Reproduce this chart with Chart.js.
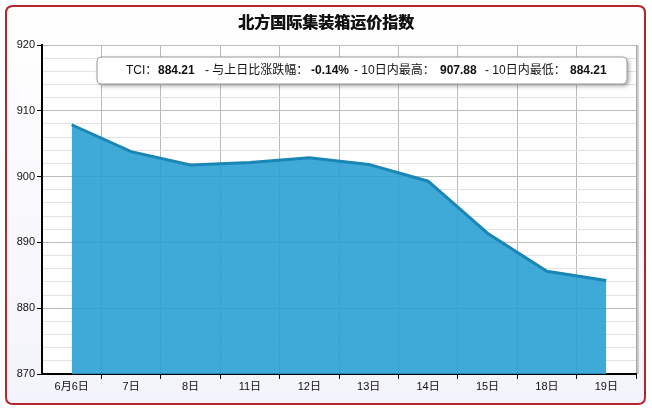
<!DOCTYPE html>
<html>
<head>
<meta charset="utf-8">
<script src="https://cdn.jsdelivr.net/npm/chart.js@4/dist/chart.umd.min.js"></script>
<style>
  html, body { margin: 0; padding: 0; background: #fff; }
  #wrap { position: relative; width: 652px; height: 411px; }
</style>
</head>
<body>
<div id="wrap"><canvas id="tciChart" width="652" height="411"></canvas></div>
<script>
// data
const chartTitle = "北方国际集装箱运价指数";
const dayLabels = ["6月6日", "7日", "8日", "11日", "12日", "13日", "14日", "15日", "18日", "19日"];
const tciValues = [907.88, 903.8, 901.75, 902.15, 902.85, 901.85, 899.3, 891.4, 885.6, 884.21];
const yTicks = [870, 880, 890, 900, 910, 920];
const infoParts = [
  ["TCI：", false], ["884.21", true],
  ["- 与上日比涨跌幅：", false], ["-0.14%", true],
  ["- 10日内最高：", false], ["907.88", true],
  ["- 10日内最低：", false], ["884.21", true]
];
const infoX = [126, 158, 205, 311, 354, 440, 485, 570];

const FONT = "'Liberation Sans', 'Noto Sans CJK SC', sans-serif";

function roundRect(ctx, x, y, w, h, r) {
  ctx.beginPath();
  ctx.moveTo(x + r, y);
  ctx.lineTo(x + w - r, y);
  ctx.quadraticCurveTo(x + w, y, x + w, y + r);
  ctx.lineTo(x + w, y + h - r);
  ctx.quadraticCurveTo(x + w, y + h, x + w - r, y + h);
  ctx.lineTo(x + r, y + h);
  ctx.quadraticCurveTo(x, y + h, x, y + h - r);
  ctx.lineTo(x, y + r);
  ctx.quadraticCurveTo(x, y, x + r, y);
  ctx.closePath();
}

// frame, title and the info box
const decor = {
  id: "decor",
  beforeDraw(chart) {
    const ctx = chart.ctx;
    ctx.save();
    const g = ctx.createLinearGradient(0, 6, 0, 404);
    g.addColorStop(0, "#ffffff");
    g.addColorStop(1, "#f3f3fb");
    roundRect(ctx, 6, 6, 639, 398, 7);
    ctx.fillStyle = g;
    ctx.fill();
    ctx.lineWidth = 2;
    ctx.strokeStyle = "#b3262e";
    ctx.stroke();

    const a = chart.chartArea;
    ctx.fillStyle = "#ffffff";
    ctx.fillRect(a.left, a.top, a.right - a.left, a.bottom - a.top);
    // shadow on right side of plot
    ctx.fillStyle = "rgba(0,0,0,0.18)";
    ctx.fillRect(a.right, a.top, 3, a.bottom - a.top);

    ctx.fillStyle = "#111";
    ctx.font = "bold 16px " + FONT;
    ctx.textAlign = "center";
    ctx.textBaseline = "middle";
    ctx.fillText(chartTitle, 326, 24);
    ctx.fillText(chartTitle, 326.5, 24);
    ctx.restore();
  },
  afterDraw(chart) {
    const ctx = chart.ctx;
    ctx.save();
    ctx.shadowColor = "rgba(0,0,0,0.35)";
    ctx.shadowBlur = 4;
    ctx.shadowOffsetX = 2;
    ctx.shadowOffsetY = 2;
    roundRect(ctx, 97, 57, 530, 27, 5);
    ctx.fillStyle = "#ffffff";
    ctx.fill();
    ctx.shadowColor = "transparent";
    ctx.lineWidth = 1;
    ctx.strokeStyle = "#9a9a9a";
    ctx.stroke();

    ctx.textBaseline = "middle";
    ctx.textAlign = "left";
    ctx.fillStyle = "#111";
    infoParts.forEach((p, i) => {
      ctx.font = (p[1] ? "bold " : "") + "12px " + FONT;
      ctx.fillText(p[0], infoX[i], 70.5);
    });
    ctx.restore();
  }
};

new Chart(document.getElementById("tciChart"), {
  type: "line",
  data: {
    labels: dayLabels,
    datasets: [{
      data: tciValues,
      borderColor: "#1a86b6",
      borderWidth: 3,
      backgroundColor: "rgba(36,158,210,0.88)",
      fill: "start",
      tension: 0,
      pointRadius: 0
    }]
  },
  options: {
    responsive: false,
    animation: false,
    devicePixelRatio: 1,
    layout: { padding: { left: 0, right: 16, top: 45, bottom: 10 } },
    plugins: {
      legend: { display: false },
      title: { display: false },
      tooltip: { enabled: false }
    },
    scales: {
      x: {
        offset: true,
        afterFit: s => { s.height = 27; },
        grid: {
          offset: true,
          color: "rgba(140,140,140,0.6)",
          tickColor: c => c.index === 0 ? "transparent" : "#000",
          tickLength: 5
        },
        border: { color: "#000", width: 2 },
        ticks: { color: "#111", font: { size: 11, family: FONT }, padding: 1, maxRotation: 0 }
      },
      y: {
        min: 870,
        max: 920,
        afterFit: s => { s.width = 42; },
        afterBuildTicks: s => {
          const t = [];
          for (let v = 870; v <= 920; v += 2) t.push({ value: v });
          s.ticks = t;
        },
        grid: {
          color: c => (yTicks.includes(c.tick.value) ? "#bdbdbd" : "#e2e2e2"),
          tickColor: c => (yTicks.includes(c.tick.value) ? "#000" : "transparent"),
          tickLength: 5
        },
        border: { color: "#000", width: 2 },
        ticks: {
          color: "#111",
          font: { size: 11, family: FONT },
          padding: 2,
          autoSkip: false,
          callback: v => (yTicks.includes(v) ? v : "")
        }
      }
    }
  },
  plugins: [decor]
});
</script>
</body>
</html>
